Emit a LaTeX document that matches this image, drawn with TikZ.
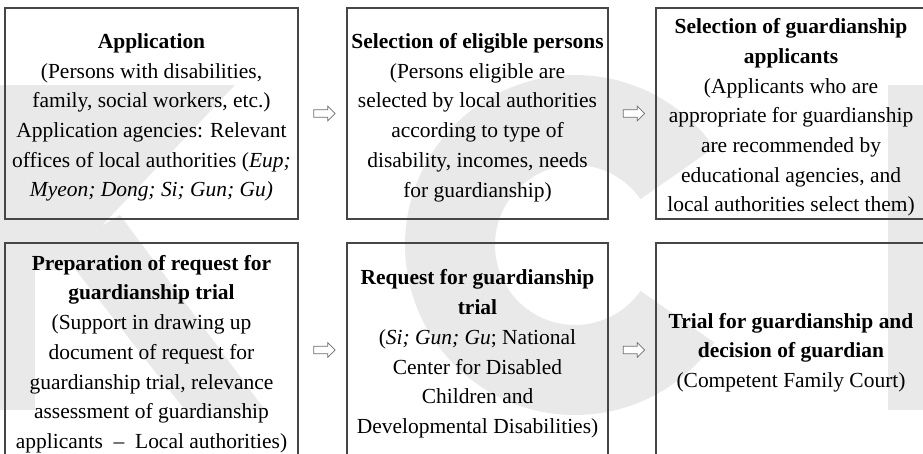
\documentclass[tikz,border=0pt]{standalone}
\usepackage{fontspec}
\setmainfont{Liberation Serif}
\usetikzlibrary{shapes.arrows,calc}

\tikzset{
  stepbox/.style={draw={rgb, 255:red, 70; green, 70; blue, 70 }, line width=0.9pt, inner sep=0pt},
  steptext/.style={align=center, inner sep=0pt, font=\fontsize{16.1}{22.3}\selectfont},
  nextarrow/.style={single arrow, draw={rgb, 255:red, 110; green, 110; blue, 110 }, fill=white, line width=0.5pt,
    inner sep=0pt, text height=2.6pt, text depth=2.6pt, minimum height=16pt, minimum width=10.5pt,
    single arrow head extend=2.65pt},
  wmark/.style={fill={rgb, 255:red, 233; green, 233; blue, 233 }, draw=none}
}

\begin{document}
\begin{tikzpicture}[x=0.75pt,y=0.75pt,yscale=-1,xscale=1]
\useasboundingbox (0,0) rectangle (923,453);
\clip (0,0) rectangle (923,453);

%Watermark: K
\fill[wmark] (-5,85) rectangle (35,410);
\fill[wmark] (35,85) -- (235,85) -- (60,270) -- (35,270) -- cycle;
\fill[wmark] (60,250) -- (120,215) -- (265,410) -- (185,410) -- cycle;
%Watermark: C
\coordinate (cc) at (575,245);
\fill[wmark] ($(cc)+(35:170)$) arc[start angle=35, end angle=325, radius=170] -- ($(cc)+(325:80)$) arc[start angle=325, end angle=35, radius=80] -- cycle;
%Watermark: I
\fill[wmark] (888,85) rectangle (930,410);

%Shape: Box row 1
\node[stepbox, minimum width=219.75pt, minimum height=158.25pt] (app) at (151.5,113.5) {};
\node[stepbox, minimum width=195.75pt, minimum height=158.25pt] (sel) at (477.5,113.5) {};
\node[stepbox, minimum width=202.5pt, minimum height=158.25pt] (cand) at (791,113.5) {};
%Shape: Box row 2
\node[stepbox, minimum width=219.75pt, minimum height=160.5pt] (prep) at (151.5,350) {};
\node[stepbox, minimum width=195.75pt, minimum height=160.5pt] (req) at (477.5,350) {};
\node[stepbox, minimum width=202.5pt, minimum height=160.5pt] (trial) at (791,350) {};

%Text in boxes
\node[steptext] (appt) at ([yshift=3pt]app.center) {\textbf{Application}\\
(Persons with disabilities,\\
family, social workers, etc.)\\
Application agencies: Relevant\\
offices of local authorities (\textit{Eup;}\\
\textit{Myeon; Dong; Si; Gun; Gu)}};
\node[steptext] (selt) at ([yshift=3pt]sel.center) {\textbf{Selection of eligible persons}\\
(Persons eligible are\\
selected by local authorities\\
according to type of\\
disability, incomes, needs\\
for guardianship)};
\node[steptext] (candt) at ([yshift=3pt]cand.center) {\textbf{Selection of guardianship}\\
\textbf{applicants}\\
(Applicants who are\\
appropriate for guardianship\\
are recommended by\\
educational agencies, and\\
local authorities select them)};
\node[steptext] (prept) at ([yshift=3pt]prep.center) {\textbf{Preparation of request for}\\
\textbf{guardianship trial}\\
(Support in drawing up\\
document of request for\\
guardianship trial, relevance\\
assessment of guardianship\\
applicants \ -- \ Local authorities)};
\node[steptext] (reqt) at ([yshift=3pt]req.center) {\textbf{Request for guardianship}\\
\textbf{trial}\\
(\textit{Si; Gun; Gu}; National\\
Center for Disabled\\
Children and\\
Developmental Disabilities)};
\node[steptext] (trialt) at ([yshift=2pt]trial.center) {\textbf{Trial for guardianship and}\\
\textbf{decision of guardian}\\
(Competent Family Court)};

%Block arrows
\node[nextarrow] (a1) at ($(app.east)!0.5!(sel.west)$) {};
\node[nextarrow] (a2) at ($(sel.east)!0.5!(cand.west)$) {};
\node[nextarrow] (a3) at ($(prep.east)!0.5!(req.west)$) {};
\node[nextarrow] (a4) at ($(req.east)!0.5!(trial.west)$) {};

\end{tikzpicture}
\end{document}
